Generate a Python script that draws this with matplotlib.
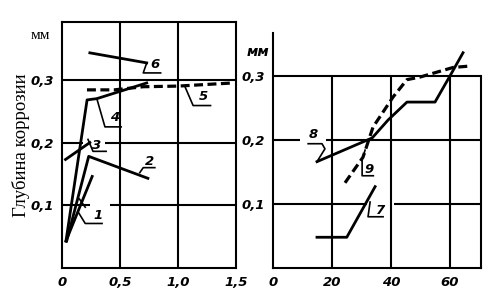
import matplotlib.pyplot as plt

# left panel: x in "0..1.5" units, depth in mm
x1 = [0.034, 0.26]
y1 = [0.043, 0.146]
x2 = [0.04, 0.23, 0.74]
y2 = [0.043, 0.178, 0.143]
x3 = [0.03, 0.24]
y3 = [0.173, 0.20]
x4 = [0.034, 0.216, 0.30, 0.73]
y4 = [0.043, 0.268, 0.270, 0.295]
x5 = [0.215, 0.45, 0.70, 1.0, 1.47]
y5 = [0.284, 0.284, 0.289, 0.290, 0.295]
x6 = [0.24, 0.73]
y6 = [0.343, 0.327]

# right panel
x7 = [14.9, 25.0, 34.6]
y7 = [0.048, 0.048, 0.127]
x8 = [14.9, 33.6, 39.0, 45.4, 54.9, 60.0, 64.4]
y8 = [0.166, 0.203, 0.231, 0.259, 0.259, 0.300, 0.336]
x9 = [24.4, 30.5, 33.9, 40.7, 45.4, 49.8, 61.0, 66.1]
y9 = [0.133, 0.173, 0.220, 0.267, 0.294, 0.298, 0.313, 0.315]

left_xticks = [0, 0.5, 1.0, 1.5]
left_xlabels = ["0", "0,5", "1,0", "1,5"]
right_xticks = [0, 20, 40, 60]
right_xlabels = ["0", "20", "40", "60"]
yticks = [0.1, 0.2, 0.3]
ylabels = ["0,1", "0,2", "0,3"]

# curve number labels: (text, text x, text y, leader xs, leader ys)
left_notes = [
    ("1", 0.31, 0.083, [0.14, 0.20, 0.345], [0.089, 0.071, 0.071]),
    ("2", 0.75, 0.170, [0.67, 0.70, 0.80], [0.152, 0.160, 0.160]),
    ("3", 0.30, 0.196, [0.224, 0.267, 0.38], [0.205, 0.186, 0.186]),
    ("4", 0.457, 0.240, [0.30, 0.37, 0.51], [0.270, 0.225, 0.225]),
    ("5", 1.215, 0.273, [1.06, 1.13, 1.28], [0.289, 0.259, 0.259]),
    ("6", 0.80, 0.325, [0.73, 0.70, 0.85], [0.327, 0.311, 0.311]),
]
right_notes = [
    ("7", 36.3, 0.090, [32.9, 32.2, 37.3], [0.103, 0.080, 0.080]),
    ("8", 13.6, 0.208, [14.9, 17.6, 16.6, 11.9], [0.166, 0.186, 0.194, 0.194]),
    ("9", 32.6, 0.153, [31.2, 30.2, 30.2, 34.0], [0.184, 0.169, 0.144, 0.144]),
]

lw = 2.0
glw = 1.5
dash = (2.8, 1.4)
tickfont = dict(fontsize=9.5, fontweight="bold", fontstyle="italic", family="DejaVu Sans")
notefont = dict(fontsize=9.5, fontweight="bold", fontstyle="italic", family="DejaVu Sans",
                ha="center", va="center")

fig = plt.figure(figsize=(4.93, 2.91), dpi=100)

# ---------- left panel
ax = fig.add_axes([0.1258, 0.079, 0.353, 0.845])
ax.set_xlim(0, 1.5)
ax.set_ylim(0, 0.392)
for s in ax.spines.values():
    s.set_linewidth(glw)
ax.vlines([0.5, 1.0], 0, 0.392, color="k", lw=glw)
ax.hlines(0.3, 0, 1.5, color="k", lw=glw)
ax.hlines([0.2, 0.2], [0, 0.37], [0.18, 1.5], color="k", lw=glw)
ax.hlines([0.1, 0.1], [0, 0.41], [0.24, 1.5], color="k", lw=glw)

ax.plot(x1, y1, color="k", lw=lw)
ax.plot(x2, y2, color="k", lw=lw)
ax.plot(x3, y3, color="k", lw=lw)
ax.plot(x4, y4, color="k", lw=lw)
ax.plot(x5, y5, color="k", lw=lw + 0.3, dashes=dash)
ax.plot(x6, y6, color="k", lw=lw)
ax.plot([0.15, 0.20], [0.11, 0.097], color="k", lw=1.2)
for t, tx, ty, lx, ly in left_notes:
    ax.plot(lx, ly, color="k", lw=1.2)
    ax.text(tx, ty, t, **notefont)

ax.set_xticks(left_xticks)
ax.set_xticklabels(left_xlabels, **tickfont)
ax.set_yticks(yticks)
ax.set_yticklabels(ylabels, **tickfont)
ax.tick_params(length=0, pad=6)
ax.text(-0.07, 0.945, "мм", transform=ax.transAxes, ha="right", va="center",
        fontsize=11, family="Liberation Serif")
ax.set_ylabel("Глубина коррозии", fontsize=13.5, family="Liberation Serif")
ax.yaxis.set_label_coords(-0.184, 0.50)

# ---------- right panel
ax2 = fig.add_axes([0.5538, 0.079, 0.4219, 0.808])
ax2.set_xlim(0, 70.5)
ax2.set_ylim(0, 0.367)
ax2.spines["top"].set_visible(False)
ax2.spines["right"].set_bounds(0, 0.3)
for s in ax2.spines.values():
    s.set_linewidth(glw)
ax2.vlines([20, 40, 60], 0, 0.3, color="k", lw=glw)
ax2.hlines(0.3, 0, 70.5, color="k", lw=glw)
ax2.hlines([0.2, 0.2], [0, 18], [9, 70.5], color="k", lw=glw)
ax2.hlines([0.1, 0.1], [0, 41], [32, 70.5], color="k", lw=glw)

ax2.plot(x7, y7, color="k", lw=lw)
ax2.plot(x8, y8, color="k", lw=lw)
ax2.plot(x9, y9, color="k", lw=lw + 0.3, dashes=dash)
for t, tx, ty, lx, ly in right_notes:
    ax2.plot(lx, ly, color="k", lw=1.2)
    ax2.text(tx, ty, t, **notefont)

ax2.set_xticks(right_xticks)
ax2.set_xticklabels(right_xlabels, **tickfont)
ax2.set_yticks(yticks)
ax2.set_yticklabels(ylabels, **tickfont)
ax2.tick_params(length=0, pad=6)
ax2.text(-0.02, 0.92, "мм", transform=ax2.transAxes, ha="right", va="center",
         fontsize=10, fontweight="bold", fontstyle="italic", family="DejaVu Sans")

fig.savefig("out.png", dpi=100)
